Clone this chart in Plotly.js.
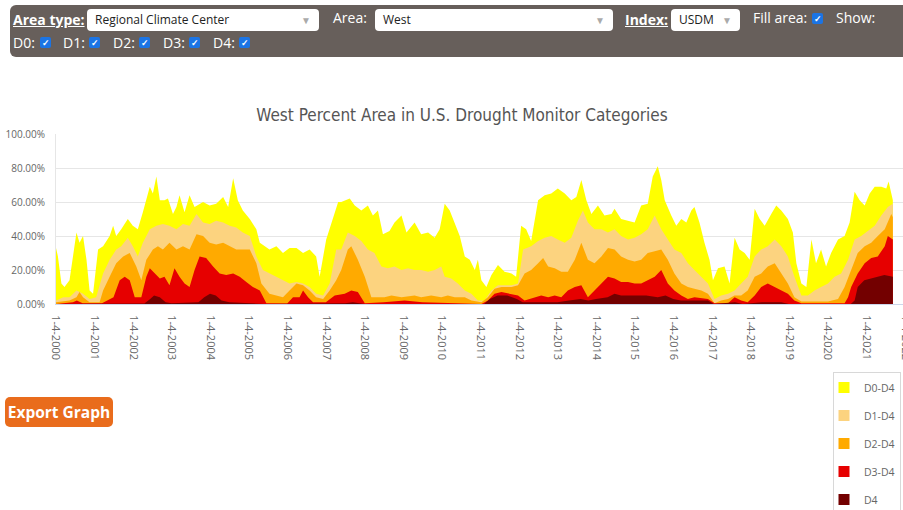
<!DOCTYPE html>
<html><head><meta charset="utf-8">
<script src="https://cdn.plot.ly/plotly-3.0.1.min.js"></script>
<style>
html,body{margin:0;padding:0;width:903px;height:510px;overflow:hidden;background:#fff;font-family:"Open Sans",sans-serif;}
#chart{position:absolute;left:0;top:0;width:924px;height:510px;}
#bar{position:absolute;left:10px;top:5px;width:905px;height:52px;background:#675f5b;border-radius:6px;}
.lbl{position:absolute;color:#fff;font-size:14px;line-height:20px;white-space:nowrap;}
.b{font-weight:bold;text-decoration:underline;}
.sel{position:absolute;height:22px;background:#fff;border-radius:4px;font-size:12px;line-height:22px;color:#222;box-sizing:border-box;padding-left:8px;}
.sel .arr{position:absolute;right:8px;top:0;color:#aaa;font-size:10px;}
.cb{position:absolute;width:11px;height:11px;background:#1b74e4;border-radius:2px;color:#fff;font-size:9px;line-height:11px;text-align:center;font-weight:bold;}
#export{position:absolute;left:5px;top:397px;width:108px;height:30px;background:#e96c1c;border-radius:5px;color:#fff;font-weight:bold;font-size:15.5px;line-height:30px;text-align:center;}
</style></head>
<body>
<div id="chart"></div>
<div id="bar"></div>
<div class="lbl b" style="left:13px;top:10px;">Area type:</div>
<div class="sel" style="left:87px;top:9px;width:232px;">Regional Climate Center<span class="arr">&#9660;</span></div>
<div class="lbl" style="left:333px;top:8px;">Area:</div>
<div class="sel" style="left:375px;top:9px;width:238px;">West<span class="arr">&#9660;</span></div>
<div class="lbl b" style="left:625px;top:10px;">Index:</div>
<div class="sel" style="left:671px;top:9px;width:69px;">USDM<span class="arr">&#9660;</span></div>
<div class="lbl" style="left:753px;top:8px;">Fill area:</div>
<div class="cb" style="left:812px;top:13px;">&#10003;</div>
<div class="lbl" style="left:836px;top:8px;">Show:</div>
<div class="lbl" style="left:13px;top:33px;">D0:</div><div class="cb" style="left:40px;top:37px;">&#10003;</div>
<div class="lbl" style="left:63px;top:33px;">D1:</div><div class="cb" style="left:89px;top:37px;">&#10003;</div>
<div class="lbl" style="left:113px;top:33px;">D2:</div><div class="cb" style="left:139px;top:37px;">&#10003;</div>
<div class="lbl" style="left:163px;top:33px;">D3:</div><div class="cb" style="left:189px;top:37px;">&#10003;</div>
<div class="lbl" style="left:213px;top:33px;">D4:</div><div class="cb" style="left:239px;top:37px;">&#10003;</div>
<div id="export">Export Graph</div>
<script>
// Decimal years (2000.01 = Jan 4, 2000) and percent of area
var d0Years = [2000.01,2000.06,2000.15,2000.23,2000.36,2000.54,2000.62,2000.71,2000.80,2000.88,
2000.97,2001.10,2001.23,2001.40,2001.49,2001.57,2001.70,2001.87,2002.00,2002.13,
2002.26,2002.44,2002.52,2002.61,2002.70,2002.82,2002.91,2003.04,2003.13,2003.21,
2003.34,2003.47,2003.60,2003.82,2003.99,2004.16,2004.34,2004.47,2004.60,2004.72,
2004.85,2005.03,2005.20,2005.29,2005.42,2005.54,2005.72,2005.89,2006.06,2006.24,
2006.41,2006.58,2006.75,2006.84,2007.01,2007.19,2007.32,2007.40,2007.62,2007.75,
2007.92,2008.09,2008.22,2008.35,2008.48,2008.65,2008.78,2008.96,2009.09,2009.30,
2009.47,2009.65,2009.82,2009.95,2010.08,2010.21,2010.34,2010.47,2010.60,2010.73,
2010.86,2010.94,2011.03,2011.16,2011.29,2011.46,2011.63,2011.81,2011.93,2012.06,
2012.19,2012.32,2012.50,2012.67,2012.84,2013.01,2013.19,2013.36,2013.49,2013.62,
2013.75,2013.88,2014.05,2014.22,2014.40,2014.48,2014.65,2014.83,2015.00,2015.17,
2015.34,2015.47,2015.60,2015.69,2015.78,2015.95,2016.08,2016.21,2016.34,2016.47,
2016.55,2016.68,2016.81,2016.94,2017.03,2017.16,2017.33,2017.46,2017.59,2017.72,
2017.85,2017.98,2018.11,2018.24,2018.37,2018.54,2018.67,2018.80,2018.97,2019.10,
2019.19,2019.32,2019.45,2019.58,2019.70,2019.83,2019.96,2020.09,2020.27,2020.44,
2020.57,2020.70,2020.83,2020.96,2021.09,2021.22,2021.39,2021.52,2021.58,2021.69];
var d0Values = [33,28,12,10,14,42,36,40,26,8,
6,32,34,40,46,40,44,50,46,44,
54,69,65,75,61,61,62,53,57,64,
54,64,57,60,58,59,63,57,74,61,
55,50,44,36,34,32,34,30,33,33,
30,32,28,16,38,50,60,60,62,58,
55,58,52,55,41,43,48,52,42,48,
41,42,39,44,59,55,48,40,28,26,
20,26,14,10,17,23,19,18,16,46,
44,37,61,64,65,68,65,61,63,73,
61,53,58,52,53,56,50,49,48,58,
59,75,81,73,61,52,46,50,48,55,
57,48,36,26,14,21,22,12,39,32,
30,26,56,50,46,53,58,55,50,42,
24,12,10,38,24,32,22,30,38,40,
48,66,61,58,65,69,69,68,72,61];

var d1Years = [2000.01,2000.20,2000.36,2000.54,2000.71,2000.88,2001.05,2001.23,2001.40,2001.57,
2001.70,2001.87,2002.00,2002.13,2002.26,2002.44,2002.61,2002.78,2002.95,2003.13,
2003.30,2003.47,2003.65,2003.82,2003.99,2004.16,2004.34,2004.51,2004.68,2004.85,
2005.03,2005.20,2005.37,2005.54,2005.72,2005.89,2006.06,2006.24,2006.41,2006.58,
2006.75,2006.93,2007.10,2007.27,2007.40,2007.57,2007.75,2007.92,2008.09,2008.26,
2008.44,2008.61,2008.78,2008.96,2009.13,2009.30,2009.47,2009.65,2009.82,2009.99,
2010.08,2010.25,2010.42,2010.60,2010.77,2010.94,2011.11,2011.29,2011.46,2011.63,
2011.81,2011.98,2012.11,2012.32,2012.50,2012.67,2012.84,2013.01,2013.19,2013.36,
2013.53,2013.66,2013.79,2013.96,2014.14,2014.31,2014.48,2014.65,2014.83,2015.00,
2015.17,2015.34,2015.52,2015.69,2015.86,2016.03,2016.21,2016.38,2016.55,2016.73,
2016.90,2017.07,2017.24,2017.42,2017.59,2017.76,2017.93,2018.11,2018.28,2018.45,
2018.63,2018.80,2018.97,2019.14,2019.32,2019.49,2019.66,2019.83,2020.01,2020.18,
2020.35,2020.53,2020.70,2020.87,2021.04,2021.22,2021.39,2021.56,2021.69];
var d1Values = [2,4,4,8,6,3,4,18,26,32,
34,39,34,28,36,44,46,47,46,44,
47,46,53,48,47,49,48,46,45,42,
40,28,20,18,16,14,12,13,12,10,
6,5,12,32,32,42,40,37,32,30,
22,21,22,20,21,20,20,19,20,22,
16,15,12,8,6,2,2,8,11,11,
11,12,32,34,37,39,40,38,36,39,
49,55,48,44,44,42,44,40,38,39,
41,44,52,44,38,32,30,24,20,16,
12,3,5,6,8,12,16,28,32,34,
38,34,28,16,5,5,8,10,12,16,
18,26,38,40,43,46,52,57,59];

var d2Years = [2000.01,2000.36,2000.54,2000.62,2000.71,2000.88,2001.14,2001.23,2001.40,2001.57,
2001.75,2001.92,2002.09,2002.22,2002.35,2002.52,2002.65,2002.78,2002.95,2003.13,
2003.30,2003.47,2003.65,2003.82,2003.99,2004.16,2004.34,2004.51,2004.68,2004.85,
2005.03,2005.20,2005.33,2005.54,2005.89,2006.06,2006.24,2006.41,2006.58,2006.75,
2006.93,2007.10,2007.27,2007.40,2007.57,2007.66,2007.83,2008.01,2008.18,2008.35,
2008.52,2008.70,2008.96,2009.30,2009.47,2009.73,2009.99,2010.16,2010.34,2010.60,
2010.77,2011.03,2011.20,2011.37,2011.55,2011.81,2011.98,2012.15,2012.32,2012.50,
2012.63,2012.76,2012.93,2013.10,2013.27,2013.45,2013.62,2013.79,2013.96,2014.14,
2014.31,2014.48,2014.65,2014.83,2015.00,2015.17,2015.34,2015.52,2015.69,2015.86,
2016.03,2016.21,2016.38,2016.55,2016.73,2016.90,2017.07,2017.24,2017.42,2017.59,
2017.76,2017.93,2018.11,2018.28,2018.45,2018.63,2018.80,2018.97,2019.14,2019.32,
2019.66,2020.01,2020.27,2020.44,2020.61,2020.78,2020.96,2021.13,2021.30,2021.48,
2021.65,2021.69];
var d2Values = [1,2,4,7,4,1,1,8,16,24,
28,30,22,14,26,32,34,32,36,32,
34,32,41,40,36,35,36,34,32,32,
32,24,12,6,4,8,12,11,8,4,
3,8,14,20,32,34,26,16,4,4,
4,5,4,5,4,5,4,5,4,4,
2,1,4,9,10,10,11,18,20,24,
27,22,21,19,19,26,36,26,24,28,
33,32,28,26,25,26,30,31,32,26,
18,12,10,9,8,6,0.5,2,3,5,
5,8,16,18,22,24,18,12,4,1.5,
1.5,1.5,3,10,20,30,34,36,40,44,
53,51];

var d3Years = [2000.01,2000.45,2000.55,2000.70,2001.20,2001.50,2001.66,2001.79,2001.92,2002.05,
2002.22,2002.35,2002.44,2002.57,2002.70,2002.82,2002.95,2003.08,2003.21,2003.34,
2003.47,2003.60,2003.73,2003.90,2004.08,2004.25,2004.42,2004.60,2004.77,2004.94,
2005.11,2005.29,2005.46,2006.00,2006.15,2006.32,2006.41,2006.54,2006.67,2007.00,
2007.23,2007.49,2007.66,2007.83,2008.01,2008.50,2009.04,2009.50,2010.50,2011.03,
2011.20,2011.37,2011.55,2011.81,2011.98,2012.15,2012.41,2012.58,2012.76,2012.93,
2013.10,2013.27,2013.45,2013.62,2013.79,2013.96,2014.14,2014.31,2014.48,2014.65,
2014.83,2015.00,2015.17,2015.34,2015.52,2015.69,2015.86,2016.03,2016.21,2016.38,
2016.55,2016.90,2017.07,2017.42,2017.59,2017.76,2017.93,2018.11,2018.28,2018.45,
2018.63,2018.80,2018.97,2019.14,2019.32,2020.44,2020.53,2020.61,2020.78,2020.96,
2021.13,2021.30,2021.48,2021.56,2021.69];
var d3Values = [0,1,2,0.5,0.5,4,14,16,14,4,
4,16,21,18,15,16,11,21,16,12,
10,20,28,27,22,18,17,18,16,13,
10,8,0.5,0.3,4,4,8,4,1,1,
5,6,8,7,0.5,1,2,1,0.5,0,
2,6,7,6,5,2,4,5,4,5,
4,8,10,11,4,8,12,16,15,13,
13,12,12,14,16,20,12,8,5,3,
4,3,0.5,0.5,4,2,1,5,10,12,
10,8,6,2,0.5,0.5,4,10,18,24,
27,28,34,40,38];

var d4Years = [2000.01,2002.30,2002.45,2002.55,2002.70,2002.85,2003.00,2003.70,2003.85,2004.00,
2004.15,2004.30,2004.50,2005.20,2005.40,2007.50,2007.70,2008.00,2011.10,2011.25,
2011.45,2011.70,2011.95,2012.10,2013.00,2013.30,2013.60,2013.80,2014.00,2014.30,
2014.48,2014.65,2015.00,2015.30,2015.60,2015.80,2016.00,2016.20,2016.90,2017.05,
2017.60,2017.80,2018.30,2018.80,2019.00,2020.60,2020.70,2020.78,2020.95,2021.13,
2021.30,2021.47,2021.69];
var d4Values = [0,0.3,3,5,4,1,0.5,1,4,6,
5,2,1,0.5,0,0.5,1,0,0,3,
5,5,3,1,1,2,3,2,3,4,
6,5,5,5,4,5,3,2,2,0,
1,0,1,1,0,0,2,10,14,15,
16,17,16];

var seriesNames = ["D0-D4","D1-D4","D2-D4","D3-D4","D4"];
var seriesColors = ["#FFFF00","#FCD37F","#FFAA00","#E60000","#730000"];
var tickYears = [2000.01,2001.01,2002.01,2003.01,2004.01,2005.01,2006.01,2007.01,2008.01,2009.01,2010.01,2011.01,
                 2012.01,2013.01,2014.01,2015.01,2016.01,2017.01,2018.01,2019.01,2020.01,2021.01,2022.01];
var tickLabels = ["1-4-2000","1-4-2001","1-4-2002","1-4-2003","1-4-2004","1-4-2005","1-4-2006","1-4-2007",
                  "1-4-2008","1-4-2009","1-4-2010","1-4-2011","1-4-2012","1-4-2013","1-4-2014","1-4-2015",
                  "1-4-2016","1-4-2017","1-4-2018","1-4-2019","1-4-2020","1-4-2021","1-4-2022"];
var yTicks = [0,20,40,60,80,100];
var yTickLabels = ["0.00%","20.00%","40.00%","60.00%","80.00%","100.00%"];

var xs = [d0Years,d1Years,d2Years,d3Years,d4Years];
var ys = [d0Values,d1Values,d2Values,d3Values,d4Values];
var traces = [];
for (var i=0;i<5;i++){
  traces.push({x:xs[i], y:ys[i], type:'scatter', mode:'lines', fill:'tozeroy',
    fillcolor:seriesColors[i], line:{width:0, color:seriesColors[i]}, showlegend:false, hoverinfo:'skip'});
}
for (var j=0;j<5;j++){
  traces.push({x:[null], y:[null], type:'scatter', mode:'markers', name:seriesNames[j], legendgroup:'g'+j,
    marker:{symbol:'square', size:11, color:seriesColors[j]}, showlegend:true});
}

var W=924, H=510, L=56, R=914, T=134, B=304;
var layout = {
  width:W, height:H, autosize:false,
  margin:{l:L, r:W-R, t:T, b:H-B, pad:0, autoexpand:false},
  paper_bgcolor:'#fff', plot_bgcolor:'#fff',
  title:{text:'West Percent Area in U.S. Drought Monitor Categories',
    font:{family:'DejaVu Sans Condensed', size:17, color:'#555'},
    x:462/W, xanchor:'center', xref:'container', y:1-115/H, yref:'container', yanchor:'middle'},
  xaxis:{range:[2000.01, 2000.01+(R-L)/38.6], tickvals:tickYears, ticktext:tickLabels, tickangle:90,
    showgrid:false, zeroline:false, showline:true, linecolor:'#ccd6eb', ticks:'', ticklabelstandoff:8,
    automargin:false,
    tickfont:{family:'"Open Sans",sans-serif', size:11, color:'#666'}},
  yaxis:{range:[0,100], tickvals:yTicks, ticktext:yTickLabels, showgrid:true, gridcolor:'#e6e6e6',
    zeroline:false, showline:true, linecolor:'#e6e6e6', ticks:'', ticklabelstandoff:8, automargin:false,
    tickfont:{family:'"Open Sans",sans-serif', size:10, color:'#666'}},
  showlegend:true,
  legend:{xref:'container', yref:'container', x:833/W, xanchor:'left', y:1-372/H, yanchor:'top', orientation:'v',
    bgcolor:'#fff', bordercolor:'#d8d8d8', borderwidth:1, tracegroupgap:9, indentation:-10,
    font:{family:'"Open Sans",sans-serif', size:10.5, color:'#666'}}
};
Plotly.newPlot('chart', traces, layout, {displayModeBar:false, staticPlot:true});
</script>
</body></html>
